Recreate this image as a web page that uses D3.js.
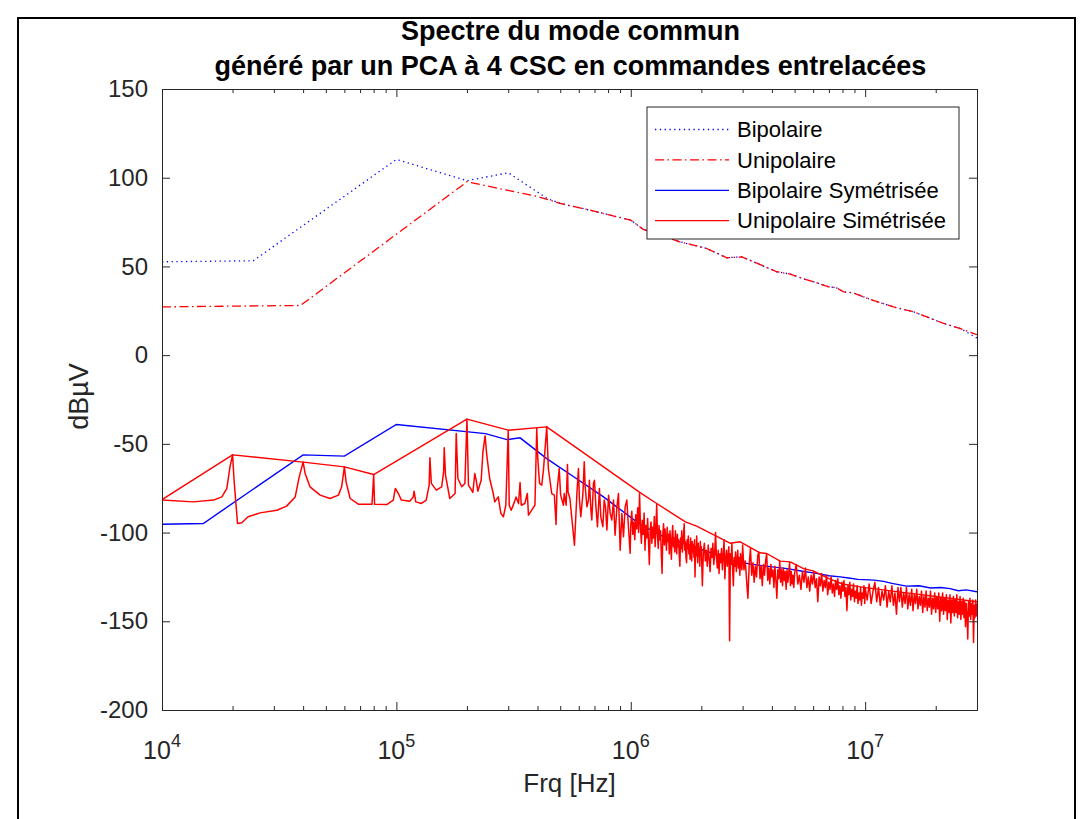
<!DOCTYPE html>
<html><head><meta charset="utf-8">
<script src="https://cdn.jsdelivr.net/npm/d3@7"></script>
<style>
body{margin:0;background:#fff}
svg{display:block}
text{font-family:"Liberation Sans",Arial,Helvetica,sans-serif}
</style>
</head><body>
<svg id="c" width="1090" height="819"></svg>
<script>
// ---------------- DATA ----------------
const titleLines = ["Spectre du mode commun", "généré par un PCA à 4 CSC en commandes entrelacées"];
const xLabel = "Frq [Hz]";
const yLabel = "dBµV";
const yTicks = [-200, -150, -100, -50, 0, 50, 100, 150];
const xMajorTicks = [1e4, 1e5, 1e6, 1e7];
const xMajorExp = ["4", "5", "6", "7"];
const xMinorTicks = [2e4,3e4,4e4,5e4,6e4,7e4,8e4,9e4,2e5,3e5,4e5,5e5,6e5,7e5,8e5,9e5,2e6,3e6,4e6,5e6,6e6,7e6,8e6,9e6,2e7,3e7];
const legendNames = ["Bipolaire", "Unipolaire", "Bipolaire Symétrisée", "Unipolaire Simétrisée"];

// Bipolaire (dotted blue)
const bipF = [1e4, 2.45e4, 1e5, 2e5, 3e5, 4.4e5, 5e5, 6.7e5, 1e6, 1.13e6, 1.62e6, 2.11e6, 2.57e6, 2.98e6, 4.2e6, 4.79e6, 5.55e6, 6.22e6, 6.98e6, 7.5e6, 8.09e6, 8.9e6, 1.05e7, 1.32e7, 1.61e7, 2.16e7, 2.55e7, 3e7];
const bipV = [52.6, 53.2, 110.3, 98.3, 102.8, 88.3, 85.5, 81.7, 76.1, 70.9, 63.9, 60.1, 54.9, 55.4, 47.0, 45.7, 42.7, 40.8, 38.5, 38.1, 35.7, 35.1, 31.4, 27.2, 24.4, 17.9, 15.0, 9.6];

// Unipolaire (dash-dot red)
const uniF = [1e4, 3.9e4, 2e5, 2.96e5, 3.97e5, 5e5, 6.7e5, 1e6, 1.13e6, 1.62e6, 2.11e6, 2.57e6, 2.98e6, 4.2e6, 4.79e6, 5.55e6, 6.22e6, 6.98e6, 7.5e6, 8.09e6, 8.9e6, 1.05e7, 1.32e7, 1.61e7, 2.16e7, 2.55e7, 3e7];
const uniV = [27.2, 28.0, 97.7, 93.0, 89.6, 85.5, 81.7, 76.1, 70.9, 63.9, 60.1, 54.9, 55.4, 47.0, 45.7, 42.7, 40.8, 38.5, 38.1, 35.7, 35.1, 31.4, 27.2, 24.4, 17.9, 15.0, 11.5];

// Bipolaire Symétrisée (solid blue)
const bipSymF = [1e4, 1.5e4, 4e4, 6e4, 1e5, 2.4e5, 2.96e5, 3.37e5, 4.38e5, 5.79e5, 7.65e5, 1.06e6, 1.33e6, 1.85e6, 2.84e6, 3.6e6, 4.64e6, 5.4e6, 6.2e6, 7.0e6, 7.83e6, 8.5e6, 9.3e6, 1.09e7, 1.2e7, 1.3e7, 1.5e7, 1.7e7, 1.9e7, 2.1e7, 2.3e7, 2.5e7, 2.7e7, 3e7];
const bipSymV = [-95.3, -94.9, -56.2, -56.9, -39.1, -44.2, -47.6, -46.6, -58.3, -69.1, -79.9, -94.0, -101.5, -108.0, -116.5, -118.6, -120.3, -121.8, -123.0, -124.3, -125.0, -125.6, -126.4, -126.8, -127.5, -128.6, -130.2, -130.0, -131.2, -131.0, -131.6, -132.8, -132.3, -133.4];

// Unipolaire Simétrisée (solid red): envelope through harmonic peaks
const uniSymEnvF = [1e4, 2e4, 4e4, 6e4, 8e4, 2e5, 3e5, 4.38e5, 1.1e6, 1.29e6, 1.71e6, 1.91e6, 2.65e6, 2.93e6, 3.56e6, 3.8e6, 4.34e6, 4.79e6, 5.46e6, 6e6, 7e6, 8e6, 1e7, 1.5e7, 2e7, 3e7];
const uniSymEnvV = [-81.4, -56.2, -60.3, -63.0, -67.3, -36.1, -42.3, -40.4, -77.6, -83.6, -94.0, -96.4, -106.0, -105.2, -111.4, -111.8, -116.1, -116.5, -120.3, -121.6, -126.0, -129.0, -131.0, -134.0, -136.0, -139.0];

// Unipolaire Simétrisée spectrum, low band (Hz)
const uniSymLowF = [1e4, 1.36e4, 1.66e4, 1.8e4, 1.89e4, 1.95e4, 2e4, 2.03e4, 2.1e4, 2.19e4, 2.33e4, 2.62e4, 3.09e4, 3.4e4, 3.7e4, 3.85e4, 4e4, 4.08e4, 4.28e4, 4.73e4, 5.21e4, 5.66e4, 5.84e4, 6e4, 6.1e4, 6.35e4, 6.88e4, 7.87e4, 8e4, 8.07e4, 9.1e4, 9.7e4, 9.9e4, 1e5, 1.02e5, 1.05e5, 1.14e5, 1.18e5, 1.19e5, 1.21e5, 1.28e5, 1.34e5, 1.38e5, 1.39e5, 1.41e5, 1.48e5, 1.56e5, 1.59e5, 1.6e5, 1.62e5, 1.69e5, 1.78e5, 1.8e5, 1.83e5, 1.9e5, 1.96e5, 2e5, 2.03e5, 2.12e5, 2.16e5, 2.19e5, 2.225e5, 2.3e5, 2.34e5, 2.39e5, 2.43e5, 2.5e5, 2.59e5, 2.63e5, 2.72e5, 2.79e5, 2.86e5, 2.93e5, 3e5, 3.03e5, 3.09e5, 3.19e5, 3.24e5, 3.32e5, 3.37e5, 3.41e5, 3.53e5, 3.62e5, 3.66e5, 3.75e5, 3.9e5, 3.97e5, 4.01e5, 4.08e5, 4.17e5, 4.24e5, 4.38e5, 4.45e5, 4.6e5, 4.72e5, 4.8e5, 4.84e5, 4.95e5, 5.02e5, 5.16e5, 5.2e5, 5.3e5, 5.37e5, 5.4e5, 5.5e5, 5.75e5];
const uniSymLowV = [-81.7, -82.7, -81.7, -79.9, -75.2, -63.0, -56.2, -70.5, -94.9, -94.5, -91.1, -88.9, -87.4, -85.1, -79.9, -68.6, -60.3, -66.7, -74.2, -78.9, -80.8, -78.9, -74.2, -63.0, -71.4, -80.8, -84.0, -84.0, -67.3, -84.0, -84.2, -81.7, -75.1, -76.1, -78.0, -81.7, -82.3, -79.9, -76.7, -82.7, -83.6, -81.7, -73.3, -57.9, -72.3, -76.1, -74.2, -65.8, -52.2, -67.6, -80.8, -78.0, -44.1, -69.5, -74.2, -72.3, -36.1, -73.3, -77.4, -66.7, -70.5, -76.7, -70.5, -54.5, -45.5, -56.4, -69.5, -78.0, -82.7, -79.9, -89.2, -91.1, -84.6, -42.3, -84.6, -87.4, -82.7, -79.9, -83.6, -71.8, -84.6, -83.6, -78.0, -90.2, -88.0, -84.6, -41.3, -58.2, -72.3, -73.3, -64.8, -40.4, -63.9, -78.0, -78.9, -95.4, -77.4, -63.9, -78.9, -84.6, -78.0, -84.6, -61.6, -77.1, -80.8, -107.1];

// mid band (Hz)
const uniSymMidF = [5.89e5, 5.98e5, 6.04e5, 6.12e5, 6.25e5, 6.33e5, 6.39e5, 6.50e5, 6.60e5, 6.66e5, 6.76e5, 6.82e5, 6.93e5, 7.00e5, 7.10e5, 7.21e5, 7.35e5, 7.45e5, 7.60e5, 7.70e5, 7.80e5, 7.91e5, 8.04e5, 8.17e5, 8.30e5, 8.44e5, 8.57e5, 8.73e5, 8.86e5, 9.01e5, 9.16e5, 9.31e5, 9.46e5, 9.62e5, 9.77e5, 9.94e5];
const uniSymMidV = [-78.0, -63.9, -81.7, -91.1, -78.0, -60.1, -74.2, -85.5, -81.7, -70.5, -87.4, -92.9, -72.3, -70.5, -85.5, -96.7, -75.1, -91.1, -96.7, -81.7, -85.5, -98.6, -78.9, -89.2, -92.9, -81.7, -101.5, -85.5, -78.0, -109.9, -89.2, -102.4, -85.5, -81.7, -96.7, -111.7];

// dense band 1 MHz - 3 MHz (kHz)
const uniSymD1kHz = [1000, 1010, 1020, 1030, 1040, 1050, 1060, 1070, 1080, 1090, 1100, 1110, 1120, 1130, 1140, 1150, 1160, 1170, 1180, 1190, 1200, 1210, 1220, 1230, 1240, 1250, 1260, 1270, 1280, 1290, 1300, 1310, 1320, 1330, 1340, 1350, 1360, 1370, 1380, 1390, 1400, 1410, 1420, 1430, 1440, 1450, 1460, 1470, 1480, 1490, 1500, 1510, 1520, 1530, 1540, 1550, 1560, 1570, 1580, 1590, 1600, 1610, 1620, 1630, 1640, 1650, 1660, 1670, 1680, 1690, 1700, 1710, 1720, 1730, 1740, 1750, 1760, 1770, 1780, 1790, 1800, 1810, 1820, 1830, 1840, 1850, 1860, 1870, 1880, 1890, 1900, 1910, 1920, 1930, 1940, 1950, 1960, 1970, 1980, 1990];
const uniSymD1V = [-96, -88, -101, -94, -104, -90, -98, -86, -100, -78, -97, -106, -93, -101, -89, -110, -96, -103, -92, -105, -118, -99, -94, -106, -97, -103, -91, -108, -98, -84, -102, -109, -96, -104, -99, -112, -123, -101, -95, -107, -98, -104, -110, -97, -105, -101, -112, -99, -106, -115, -102, -96, -108, -103, -111, -99, -106, -112, -101, -108, -104, -113, -119, -103, -109, -99, -111, -106, -101, -95, -110, -105, -114, -117, -104, -109, -102, -112, -107, -115, -103, -110, -116, -105, -111, -107, -114, -104, -125, -108, -113, -102, -111, -117, -106, -113, -109, -119, -105, -112];
const uniSymD2kHz = [2000, 2020, 2040, 2060, 2080, 2100, 2120, 2140, 2160, 2180, 2200, 2220, 2240, 2260, 2280, 2300, 2320, 2340, 2360, 2380, 2400, 2420, 2440, 2460, 2480, 2500, 2520, 2540, 2560, 2580, 2600, 2620, 2640, 2660, 2680, 2700, 2720, 2740, 2760, 2780, 2800, 2820, 2840, 2860, 2880, 2900, 2920, 2940, 2960, 2980];
const uniSymD2V = [-108, -130, -111, -106, -116, -110, -119, -107, -115, -122, -109, -114, -106, -118, -112, -100, -114, -120, -110, -123, -112, -117, -109, -121, -113, -104, -126, -115, -110, -119, -113, -108, -161, -112, -118, -106, -121, -130, -114, -119, -111, -122, -116, -110, -120, -114, -124, -112, -118, -121];

// high band (kHz)
const uniSymHi1kHz = [3000, 3040, 3080, 3120, 3160, 3200, 3240, 3280, 3320, 3360, 3400, 3440, 3480, 3520, 3560, 3600, 3640, 3680, 3720, 3760, 3800, 3840, 3880, 3920, 3960, 4000, 4040, 4080, 4120, 4160, 4200, 4240, 4280, 4320, 4360, 4400, 4440, 4480, 4520, 4560, 4600, 4640, 4680, 4720, 4760, 4800, 4840, 4880, 4920, 4960];
const uniSymHi1V = [-107, -121, -116, -127, -137, -118, -109, -124, -117, -128, -119, -125, -113, -111, -126, -119, -130, -118, -124, -116, -112, -127, -120, -129, -118, -125, -121, -131, -119, -127, -137, -121, -126, -116, -128, -121, -130, -120, -127, -122, -132, -121, -128, -123, -117, -130, -122, -129, -124, -131];
const uniSymHi2kHz = [5000, 5080, 5160, 5240, 5320, 5400, 5480, 5560, 5640, 5720, 5800, 5880, 5960, 6040, 6120, 6200, 6280, 6360, 6440, 6520, 6600, 6680, 6760, 6840, 6920, 7000, 7080, 7160, 7240, 7320, 7400, 7480, 7560, 7640, 7720, 7800, 7880, 7960, 8040, 8120, 8200, 8280, 8360, 8440, 8520, 8600, 8680, 8760, 8840, 8920, 9000, 9080, 9160, 9240, 9320, 9400, 9480, 9560, 9640, 9720, 9800, 9880, 9960];
const uniSymHi2V = [-123, -118, -129, -124, -132, -122, -128, -120, -131, -125, -133, -124, -129, -122, -131, -126, -139, -125, -130, -123, -133, -127, -131, -124, -135, -128, -132, -125, -134, -129, -136, -127, -132, -126, -135, -130, -137, -128, -133, -127, -136, -131, -144, -130, -135, -128, -138, -132, -136, -129, -139, -133, -137, -130, -140, -134, -138, -131, -141, -134, -137, -130, -140];
const uniSymHi3kHz = [10000, 10200, 10400, 10600, 10800, 11000, 11200, 11400, 11600, 11800, 12000, 12200, 12400, 12600, 12800, 13000, 13200, 13400, 13600, 13800, 14000, 14200, 14400, 14600, 14800, 15000, 15200, 15400, 15600, 15800, 16000, 16200, 16400, 16600, 16800, 17000, 17200, 17400, 17600, 17800, 18000, 18200, 18400, 18600, 18800, 19000, 19200, 19400, 19600, 19800, 20000, 20200, 20400, 20600, 20800, 21000, 21200, 21400, 21600, 21800, 22000, 22200, 22400, 22600, 22800, 23000, 23200, 23400, 23600, 23800, 24000, 24200, 24400, 24600, 24800, 25000, 25200, 25400, 25600, 25800, 26000, 26200, 26400, 26600, 26800, 27000, 27200, 27400, 27600, 27800, 28000, 28200, 28400, 28600, 28800, 29000, 29200, 29400, 29600, 29800, 30000];
const uniSymHi3V = [-131, -138, -129, -140, -133, -128, -139, -131, -141, -133, -138, -130, -142, -133, -139, -130, -141, -134, -146, -131, -139, -131, -142, -134, -140, -131, -143, -135, -141, -132, -144, -135, -140, -132, -143, -136, -141, -133, -145, -136, -142, -133, -144, -137, -142, -133, -146, -137, -143, -134, -145, -136, -143, -134, -150, -137, -144, -134, -146, -137, -144, -135, -149, -138, -145, -135, -151, -138, -145, -136, -147, -138, -145, -135, -148, -139, -146, -136, -149, -139, -146, -137, -148, -139, -153, -140, -147, -160, -139, -147, -137, -149, -140, -146, -138, -162, -141, -148, -138, -147, -140];

// ---------------- CHART ----------------
const W = 1090, H = 819;
const P = {l: 162, r: 977, t: 89, b: 710};
const AX = "#262626";
const svg = d3.select("#c");

svg.append("rect").attr("width", W).attr("height", H).attr("fill", "#fff");
svg.append("rect").attr("x", 18).attr("y", 18).attr("width", 1057).attr("height", 840)
  .attr("fill", "none").attr("stroke", "#000").attr("stroke-width", 2);

const x = d3.scaleLog().domain([1e4, 3e7]).range([P.l, P.r]);
const y = d3.scaleLinear().domain([-200, 150]).range([P.b, P.t]);

const zip = (f, v, k = 1) => f.slice(0, Math.min(f.length, v.length)).map((d, i) => [d * k, v[i]]);
const line = d3.line().x(d => x(d[0])).y(d => y(d[1]));

svg.append("defs").append("clipPath").attr("id", "clip")
  .append("rect").attr("x", P.l).attr("y", P.t).attr("width", P.r - P.l).attr("height", P.b - P.t);
const plot = svg.append("g").attr("clip-path", "url(#clip)");

const BLUE = "#0000ff", RED = "#ff0000";
const DOT = "1.3,3.5", DASHDOT = "9,3.5,1.5,3.5";

plot.append("path").datum(zip(bipF, bipV)).attr("d", line)
  .attr("fill", "none").attr("stroke", BLUE).attr("stroke-width", 1.3).attr("stroke-dasharray", DOT);
plot.append("path").datum(zip(uniF, uniV)).attr("d", line)
  .attr("fill", "none").attr("stroke", RED).attr("stroke-width", 1.3).attr("stroke-dasharray", DASHDOT);
plot.append("path").datum(zip(bipSymF, bipSymV)).attr("d", line)
  .attr("fill", "none").attr("stroke", BLUE).attr("stroke-width", 1.4);

const uniSymSpectrum = zip(uniSymLowF, uniSymLowV)
  .concat(zip(uniSymMidF, uniSymMidV))
  .concat(zip(uniSymD1kHz, uniSymD1V, 1e3))
  .concat(zip(uniSymD2kHz, uniSymD2V, 1e3))
  .concat(zip(uniSymHi1kHz, uniSymHi1V, 1e3))
  .concat(zip(uniSymHi2kHz, uniSymHi2V, 1e3))
  .concat(zip(uniSymHi3kHz, uniSymHi3V, 1e3));
plot.append("path").datum(zip(uniSymEnvF, uniSymEnvV)).attr("d", line)
  .attr("fill", "none").attr("stroke", RED).attr("stroke-width", 1.4).attr("stroke-linejoin", "round");
plot.append("path").datum(uniSymSpectrum).attr("d", line)
  .attr("fill", "none").attr("stroke", RED).attr("stroke-width", 1.5).attr("stroke-linejoin", "round");

// ---------------- AXES ----------------
function styleAxis(g) {
  g.selectAll(".domain").attr("stroke", AX).attr("stroke-width", 1);
  g.selectAll(".tick line").attr("stroke", AX).attr("stroke-width", 1);
  g.selectAll(".tick text").attr("fill", AX);
}
svg.append("g").attr("transform", `translate(0,${P.b})`)
  .call(d3.axisBottom(x).tickValues(xMinorTicks).tickSize(-4).tickSizeOuter(0).tickFormat(""))
  .call(styleAxis);
svg.append("g").attr("transform", `translate(0,${P.b})`)
  .call(d3.axisBottom(x).tickValues(xMajorTicks).tickSize(-8).tickSizeOuter(0).tickFormat(""))
  .call(styleAxis);
svg.append("g").attr("transform", `translate(0,${P.t})`)
  .call(d3.axisTop(x).tickValues(xMinorTicks).tickSize(-4).tickSizeOuter(0).tickFormat(""))
  .call(styleAxis);
svg.append("g").attr("transform", `translate(0,${P.t})`)
  .call(d3.axisTop(x).tickValues(xMajorTicks).tickSize(-8).tickSizeOuter(0).tickFormat(""))
  .call(styleAxis);
const gl = svg.append("g").attr("transform", `translate(${P.l},0)`)
  .call(d3.axisLeft(y).tickValues(yTicks).tickSize(-8).tickSizeOuter(0).tickPadding(14).tickFormat(d => String(d)))
  .call(styleAxis);
gl.selectAll(".tick text").attr("font-size", 24).attr("font-family", '"Liberation Sans",Arial,sans-serif');
svg.append("g").attr("transform", `translate(${P.r},0)`)
  .call(d3.axisRight(y).tickValues(yTicks).tickSize(-8).tickSizeOuter(0).tickFormat(""))
  .call(styleAxis);

// x tick labels 10^n
xMajorTicks.forEach((v, i) => {
  const t = svg.append("text").attr("x", x(v)).attr("y", 759)
    .attr("text-anchor", "middle").attr("fill", AX).attr("font-size", 25);
  t.append("tspan").text("10");
  t.append("tspan").attr("dy", -12).attr("font-size", 18).text(xMajorExp[i]);
});

// axis labels
svg.append("text").attr("x", (P.l + P.r) / 2).attr("y", 792).attr("text-anchor", "middle")
  .attr("fill", AX).attr("font-size", 26).text(xLabel);
svg.append("text").attr("transform", `translate(88,${(P.t + P.b) / 2 - 3}) rotate(-90)`)
  .attr("text-anchor", "middle").attr("fill", AX).attr("font-size", 27).text(yLabel);

// title
titleLines.forEach((s, i) => {
  svg.append("text").attr("x", (P.l + P.r) / 2 + 1).attr("y", 40 + i * 35).attr("text-anchor", "middle")
    .attr("fill", "#000").attr("font-size", 27).attr("font-weight", "bold").text(s);
});

// ---------------- LEGEND ----------------
const L = {x: 647, y: 107, w: 312, h: 132};
const lg = svg.append("g");
lg.append("rect").attr("x", L.x).attr("y", L.y).attr("width", L.w).attr("height", L.h)
  .attr("fill", "#fff").attr("stroke", AX).attr("stroke-width", 1);
const legStyles = [
  {c: BLUE, d: DOT}, {c: RED, d: DASHDOT}, {c: BLUE, d: null}, {c: RED, d: null}
];
legendNames.forEach((n, i) => {
  const cy = 129.5 + i * 30.4;
  const ln = lg.append("line").attr("x1", 655).attr("x2", 729).attr("y1", cy).attr("y2", cy)
    .attr("stroke", legStyles[i].c).attr("stroke-width", 1.3);
  if (legStyles[i].d) ln.attr("stroke-dasharray", legStyles[i].d);
  lg.append("text").attr("x", 737).attr("y", cy).attr("dy", "0.35em").attr("font-size", 22)
    .attr("fill", "#000").text(n);
});
</script>
</body></html>
